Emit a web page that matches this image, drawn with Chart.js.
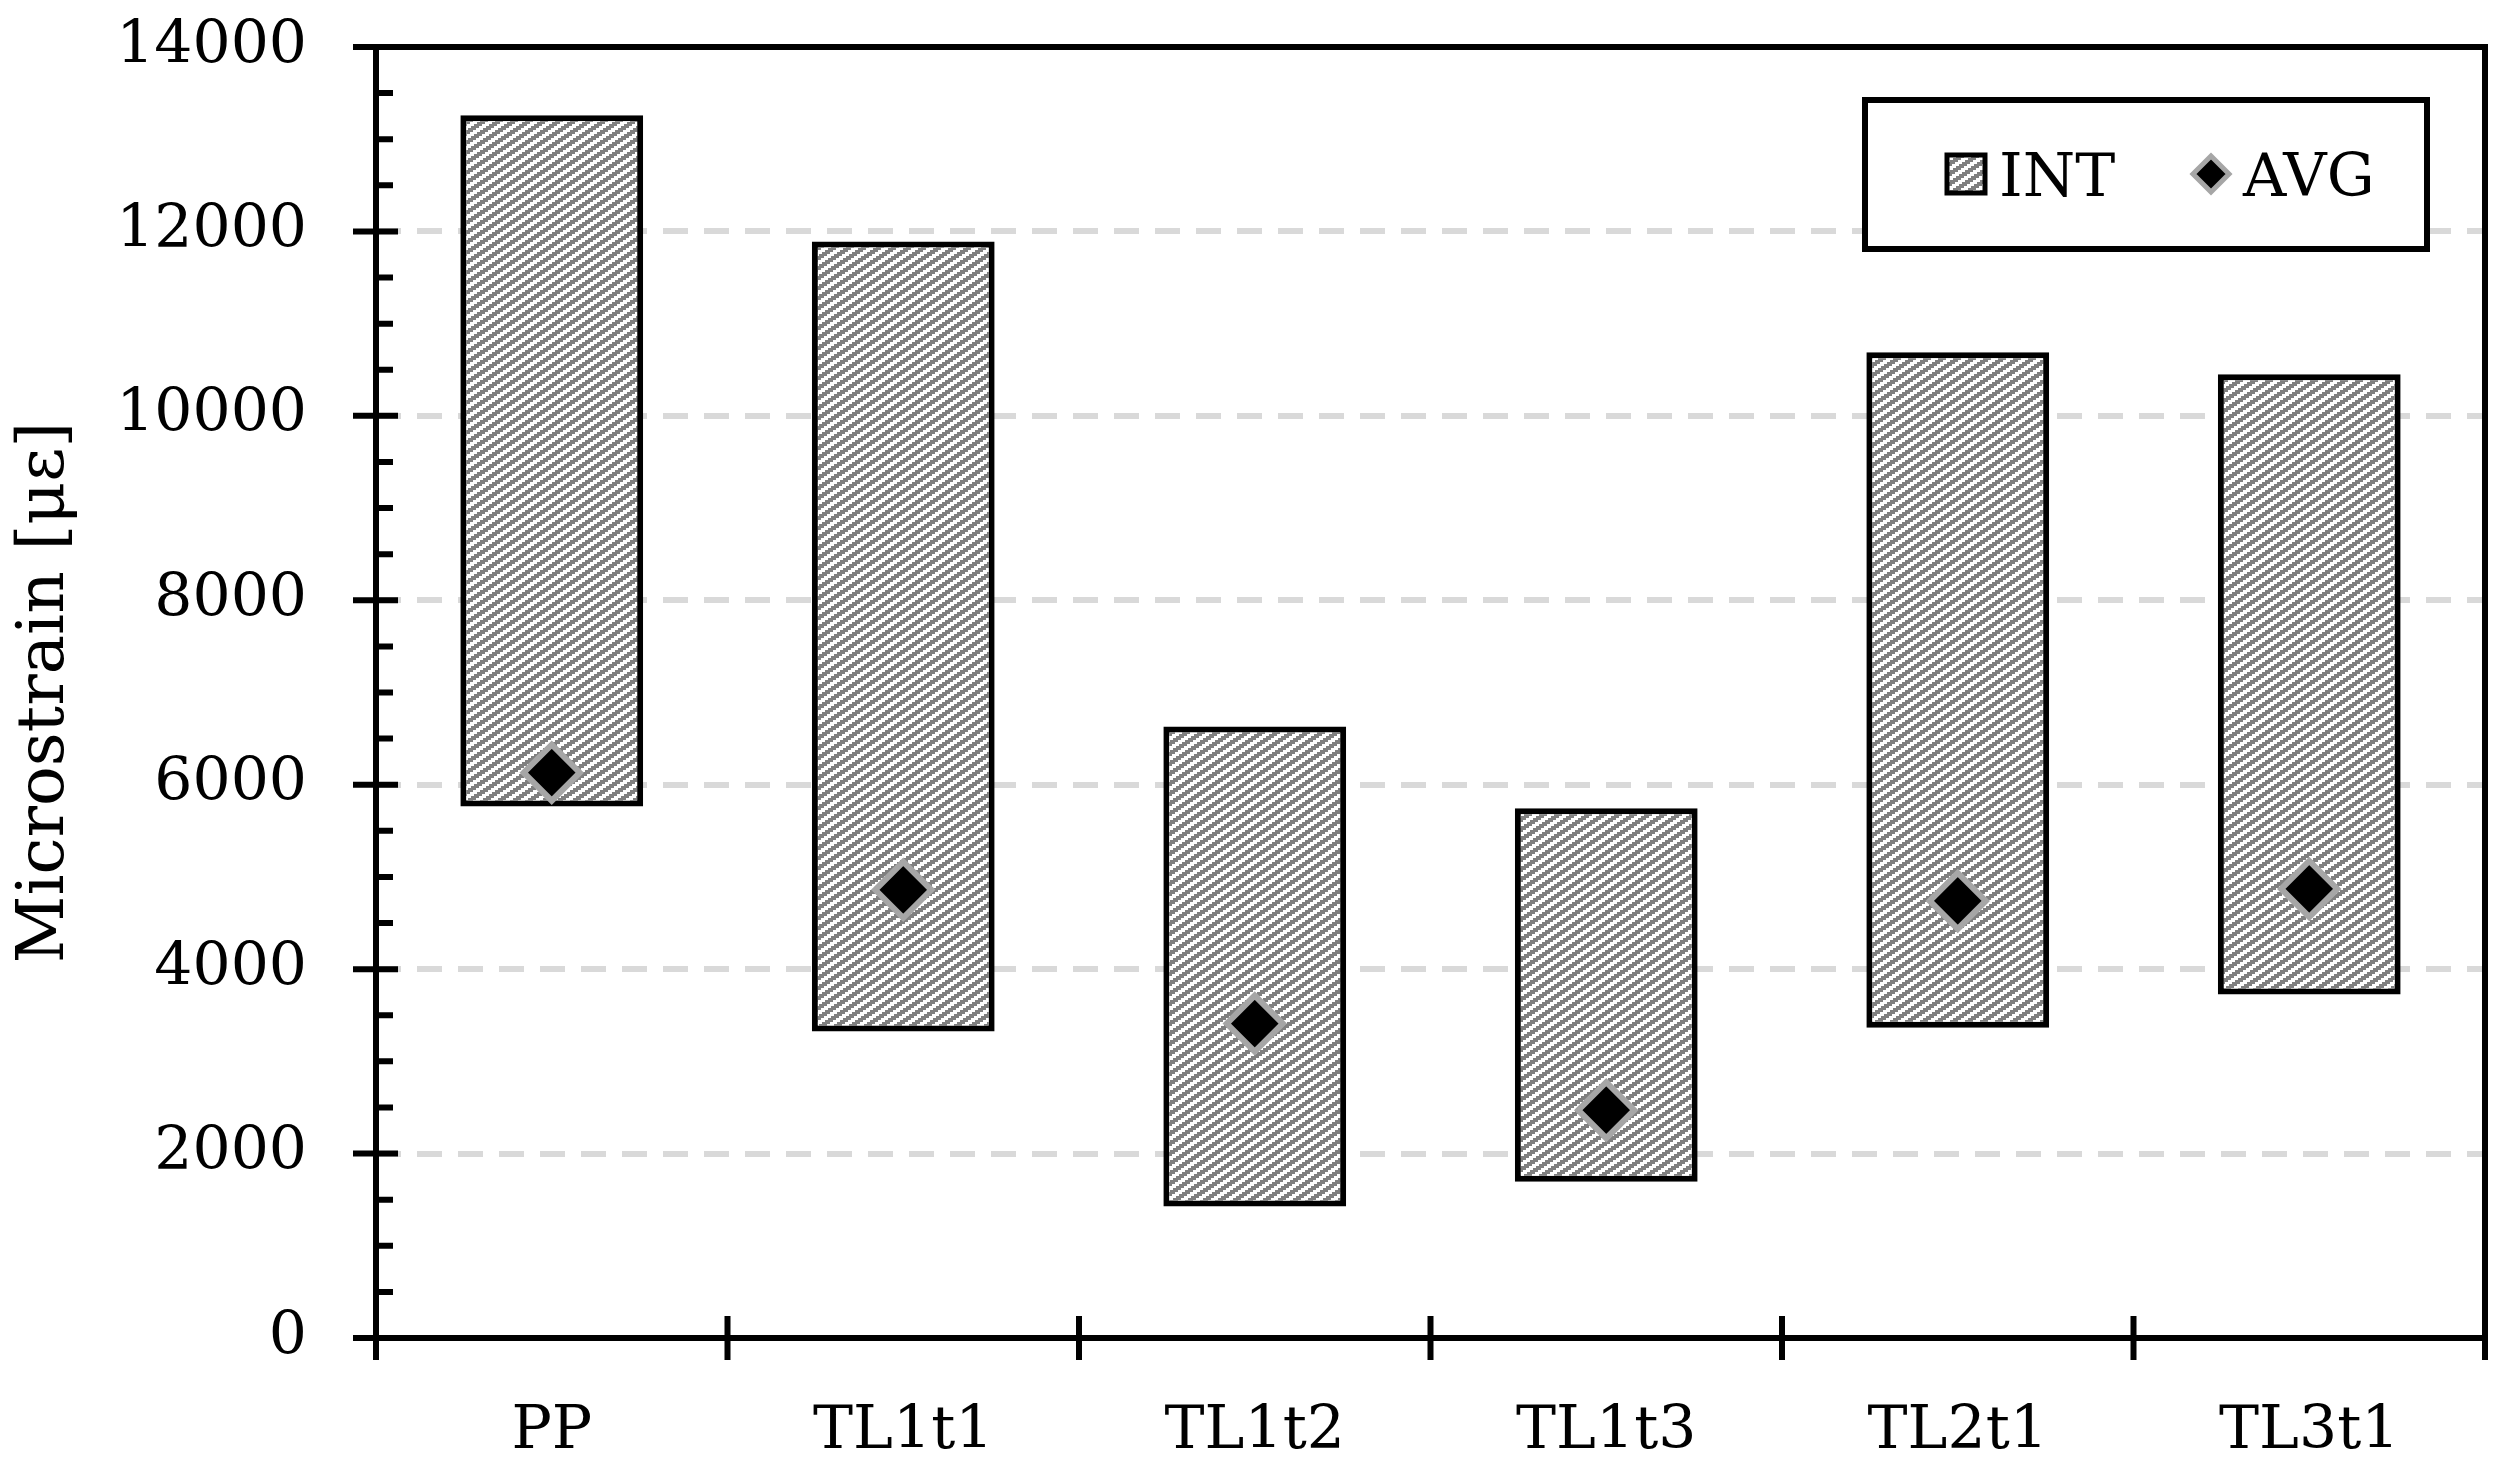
<!DOCTYPE html>
<html lang="en">
<head>
<meta charset="UTF-8">
<title>Microstrain</title>
<script src="https://cdn.jsdelivr.net/npm/chart.js@4.4.1/dist/chart.umd.min.js"></script>
<style>
  body { margin: 0; background: #fff; }
  .wrap { width: 2517px; height: 1477px; position: relative; }
</style>
</head>
<body>
<div class="wrap"><canvas id="c"></canvas></div>
<script>
// data (outer edges of the boxes)
const categories = ['PP', 'TL1t1', 'TL1t2', 'TL1t3', 'TL2t1', 'TL3t1'];
const intLow  = [5765, 3325, 1425, 1695, 3365, 3725];
const intHigh = [13260, 11890, 6630, 5745, 10690, 10450];
const avgValues = [6130, 4860, 3410, 2470, 4740, 4870];
const yTicks = [0, 2000, 4000, 6000, 8000, 10000, 12000, 14000];

const FONT = 'DejaVu Serif';
const FSIZE = 60;

// hatch: gray stripes rising to the right, stepped
function makeHatch(ctx) {
  const W = 15, H = 10;
  const tile = document.createElement('canvas');
  tile.width = W; tile.height = H;
  const t = tile.getContext('2d');
  const img = t.createImageData(W, H);
  for (let y = 0; y < H; y++) {
    const r = Math.floor(y / 2);
    for (let x = 0; x < W; x++) {
      const k = (x + 3 * r) % W;
      const v = k < 8 ? 128 : 255;
      const p = (y * W + x) * 4;
      img.data[p] = v; img.data[p + 1] = v; img.data[p + 2] = v; img.data[p + 3] = 255;
    }
  }
  t.putImageData(img, 0, 0);
  return ctx.createPattern(tile, 'repeat');
}

const canvas = document.getElementById('c');
const hatch = makeHatch(canvas.getContext('2d'));

const frameAndTicks = {
  id: 'frameAndTicks',
  afterDraw(chart) {
    const ctx = chart.ctx, a = chart.chartArea, ys = chart.scales.y;
    ctx.save();
    ctx.strokeStyle = '#000';
    ctx.lineWidth = 6;
    ctx.strokeRect(a.left, a.top, a.right - a.left, a.bottom - a.top);
    ctx.beginPath();
    for (let v = 0; v <= 14000; v += 500) {
      const y = ys.getPixelForValue(v);
      if (v % 2000 === 0) {
        ctx.moveTo(a.left - 23, y); ctx.lineTo(a.left + 22, y);
      } else {
        ctx.moveTo(a.left, y); ctx.lineTo(a.left + 17, y);
      }
    }
    const w = (a.right - a.left) / categories.length;
    for (let i = 0; i <= categories.length; i++) {
      const x = a.left + i * w;
      ctx.moveTo(x, a.bottom - 22); ctx.lineTo(x, a.bottom + 22);
    }
    ctx.stroke();

    // legend box
    const ds = chart.data.datasets;
    const bx = a.right - 620, by = a.top + 53, bw = 562, bh = 149;
    ctx.fillStyle = '#fff';
    ctx.fillRect(bx, by, bw, bh);
    ctx.strokeRect(bx, by, bw, bh);
    const cy = by + 74;
    ctx.fillStyle = hatch;
    ctx.fillRect(bx + 82, cy - 19, 38, 38);
    ctx.lineWidth = 5;
    ctx.strokeRect(bx + 82, cy - 19, 38, 38);
    ctx.fillStyle = '#000';
    ctx.font = FSIZE + 'px "' + FONT + '"';
    ctx.textBaseline = 'alphabetic';
    ctx.fillText(ds[0].label, bx + 134, cy + 22);
    const dx = bx + 346;
    ctx.beginPath();
    ctx.moveTo(dx, cy - 18); ctx.lineTo(dx + 18, cy); ctx.lineTo(dx, cy + 18); ctx.lineTo(dx - 18, cy);
    ctx.closePath();
    ctx.fillStyle = '#000';
    ctx.fill();
    ctx.strokeStyle = '#a6a6a6';
    ctx.stroke();
    ctx.fillStyle = '#000';
    ctx.fillText(ds[1].label, dx + 32, cy + 22);
    ctx.restore();
  }
};

new Chart(canvas, {
  data: {
    labels: categories,
    datasets: [
      {
        type: 'bar',
        label: 'INT',
        data: intLow.map((lo, i) => [lo, intHigh[i]]),
        backgroundColor: hatch,
        borderColor: '#000',
        borderWidth: 6,
        borderSkipped: false,
        barPercentage: 1,
        categoryPercentage: 0.52,
        order: 2
      },
      {
        type: 'line',
        label: 'AVG',
        data: avgValues,
        showLine: false,
        pointStyle: 'rectRot',
        pointRadius: 28,
        pointHoverRadius: 28,
        pointBackgroundColor: '#000',
        pointBorderColor: '#a6a6a6',
        pointBorderWidth: 6,
        order: 1
      }
    ]
  },
  options: {
    responsive: true,
    maintainAspectRatio: false,
    animation: false,
    layout: { autoPadding: false, padding: { top: 47, right: 32, left: 0, bottom: 0 } },
    plugins: { legend: { display: false }, tooltip: { enabled: false } },
    scales: {
      x: {
        grid: { display: false },
        border: { display: false },
        ticks: { color: '#000', font: { family: FONT, size: FSIZE }, padding: 50 },
        afterFit: (s) => { s.height = 139; s.paddingLeft = 0; s.paddingRight = 0; }
      },
      y: {
        min: 0,
        max: 14000,
        afterBuildTicks: (s) => { s.ticks = yTicks.map(v => ({ value: v })); },
        grid: {
          drawTicks: false,
          lineWidth: 6,
          color: (c) => (c.tick && (c.tick.value === 0 || c.tick.value === 14000)) ? 'rgba(0,0,0,0)' : '#d9d9d9'
        },
        border: { display: false, dash: [25, 16] },
        ticks: {
          color: '#000',
          font: { family: FONT, size: FSIZE },
          padding: 69,
          callback: (v) => String(v)
        },
        title: {
          display: true,
          text: 'Microstrain [με]',
          color: '#000',
          font: { family: FONT, size: 66 },
          padding: { top: 6 }
        },
        afterFit: (s) => { s.width = 376; s.paddingTop = 0; s.paddingBottom = 0; }
      }
    }
  },
  plugins: [frameAndTicks]
});
</script>
</body>
</html>
